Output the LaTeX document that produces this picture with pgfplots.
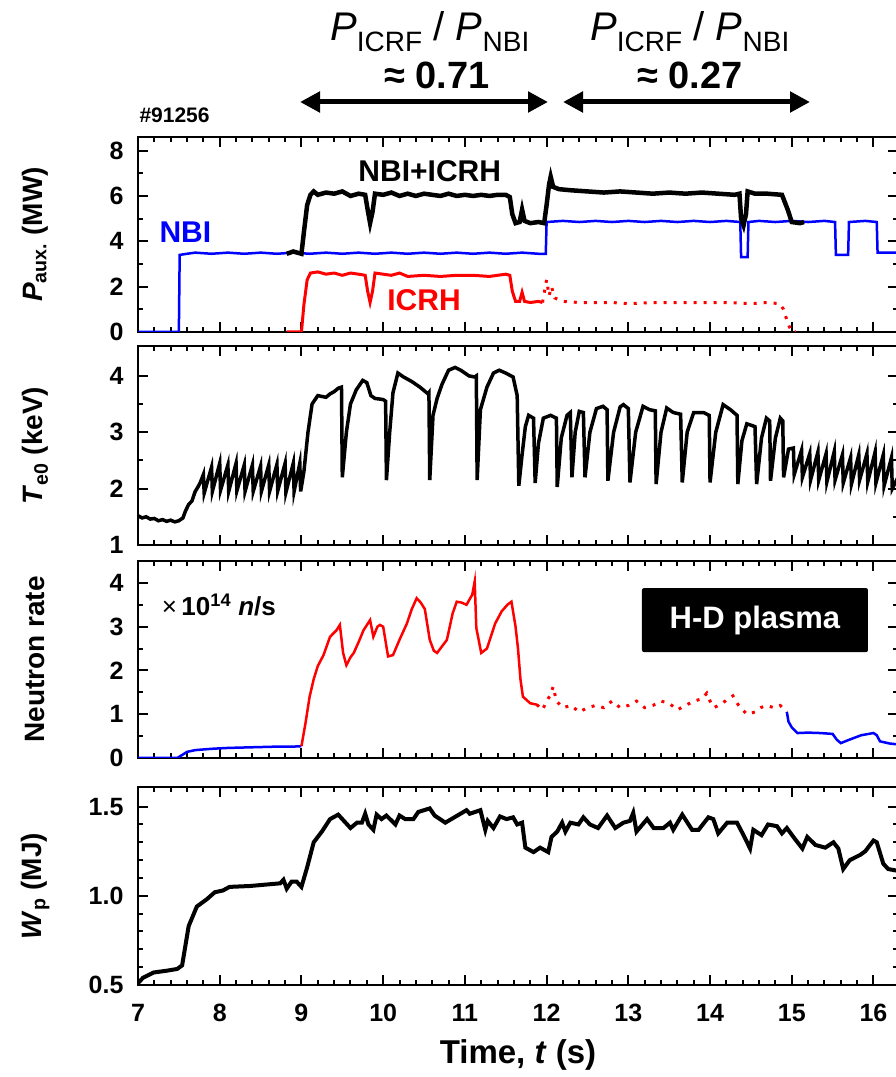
\documentclass[border=0pt]{standalone}
\usepackage{fontspec}
\setmainfont{Liberation Sans}
\usepackage{pgfplots}
\pgfplotsset{compat=1.18}
\usetikzlibrary{arrows.meta}
\definecolor{nbi}{RGB}{0,0,255}
\definecolor{icrh}{RGB}{255,0,0}

\newcommand{\tickfont}{\fontsize{25}{25}\selectfont\bfseries}
\newcommand{\labfont}{\fontsize{28}{30}\selectfont\bfseries}

\pgfplotsset{
  panel/.style={
    scale only axis, width=760pt, xmin=7, xmax=16.3,
    anchor=south west,
    xtick={7,...,16}, minor x tick num=4,
    axis line style={line width=2pt},
    tick style={line width=2pt, black},
    major tick length=10pt, minor tick length=5pt,
    tick align=inside,
    tick label style={font=\tickfont},
    /pgf/number format/assume math mode=true,
    yticklabel style={xshift=-11pt},
    ylabel style={at={(axis description cs:-0.135,0.5)}, anchor=center, font=\labfont},
  },
}

\begin{document}
\begin{tikzpicture}
\useasboundingbox (0pt,0pt) rectangle (896pt,1077pt);

% --- auxiliary heating power
\begin{axis}[panel, at={(138pt,745pt)}, height=195pt,
  ymin=0, ymax=8.6, ytick={0,2,4,6,8}, minor y tick num=1,
  xticklabels={},
  ylabel={\textit{P}\textsubscript{aux.} (MW)}]
\addplot[nbi, line width=2.5pt] coordinates {
  (7,0)(7.5,0)(7.51,3.4)(7.6,3.45)(7.7,3.5)(7.9,3.45)(8.1,3.5)(8.3,3.45)(8.5,3.5)
  (8.7,3.45)(8.9,3.5)(9.1,3.45)(9.3,3.5)(9.5,3.45)(9.7,3.5)(9.9,3.45)(10.1,3.5)
  (10.3,3.45)(10.5,3.5)(10.7,3.45)(10.9,3.5)(11.1,3.45)(11.3,3.5)(11.5,3.45)
  (11.7,3.5)(11.9,3.45)(11.99,3.45)(12.0,4.85)(12.2,4.9)(12.4,4.85)(12.6,4.9)
  (12.8,4.85)(13.0,4.9)(13.2,4.85)(13.4,4.9)(13.6,4.85)(13.8,4.9)(14.0,4.85)
  (14.2,4.9)(14.37,4.85)(14.38,3.3)(14.46,3.3)(14.47,4.85)(14.6,4.9)(14.8,4.85)
  (15.0,4.9)(15.2,4.85)(15.4,4.9)(15.53,4.85)(15.54,3.4)(15.69,3.4)(15.7,4.85)
  (15.9,4.9)(16.04,4.85)(16.05,3.5)(16.3,3.5)
};
\addplot[icrh, line width=3pt] coordinates {
  (8.82,0)(9.0,0)(9.03,1.2)(9.07,2.3)(9.11,2.6)(9.2,2.65)(9.3,2.55)(9.4,2.6)
  (9.5,2.5)(9.6,2.6)(9.7,2.55)(9.78,2.5)(9.81,1.8)(9.84,1.3)(9.87,1.8)(9.9,2.6)
  (10.0,2.55)(10.1,2.5)(10.2,2.6)(10.3,2.45)(10.5,2.5)(10.7,2.45)(10.9,2.5)
  (11.1,2.5)(11.3,2.45)(11.5,2.55)(11.55,2.5)(11.58,1.8)(11.62,1.35)(11.67,1.35)
  (11.7,1.75)(11.73,1.35)(11.8,1.3)(11.9,1.35)(11.95,1.3)
};
\addplot[icrh, line width=3pt, dash pattern=on 3pt off 7pt] coordinates {
  (11.95,1.3)(12.0,2.3)(12.03,1.6)(12.06,2.0)(12.1,1.5)(12.2,1.35)(12.4,1.3)
  (12.6,1.3)(12.8,1.3)(13.0,1.25)(13.3,1.3)(13.6,1.3)(13.9,1.3)(14.2,1.3)
  (14.5,1.25)(14.7,1.3)(14.85,1.25)(14.9,1.0)(14.95,0.4)(15.0,0)(15.05,0)
};
\addplot[black, line width=4.5pt] coordinates {
  (8.82,3.45)(8.9,3.55)(9.0,3.45)(9.03,4.4)(9.07,5.6)(9.11,6.05)(9.15,6.2)
  (9.2,6.05)(9.3,6.15)(9.4,6.1)(9.5,6.2)(9.6,6.0)(9.7,6.1)(9.78,6.05)(9.81,5.4)
  (9.84,4.8)(9.87,5.3)(9.9,6.1)(10.0,6.05)(10.1,6.15)(10.2,6.0)(10.3,6.1)
  (10.4,6.0)(10.5,6.1)(10.6,6.05)(10.7,6.0)(10.8,6.1)(10.9,6.0)(11.0,6.05)
  (11.1,6.0)(11.2,6.05)(11.3,6.0)(11.4,6.05)(11.5,6.05)(11.55,5.95)(11.58,5.2)
  (11.62,4.8)(11.67,4.85)(11.7,5.4)(11.73,4.9)(11.8,4.8)(11.9,4.85)(11.97,4.8)
  (12.0,5.6)(12.03,6.5)(12.05,6.85)(12.08,6.4)(12.15,6.3)(12.3,6.25)(12.5,6.2)
  (12.7,6.15)(12.9,6.2)(13.1,6.15)(13.3,6.1)(13.5,6.15)(13.7,6.1)(13.9,6.15)
  (14.1,6.1)(14.3,6.05)(14.36,6.1)(14.38,5.0)(14.41,4.7)(14.44,5.2)(14.46,6.2)
  (14.55,6.1)(14.7,6.1)(14.88,6.05)(14.95,5.4)(15.0,4.85)(15.1,4.8)(15.15,4.85)
};
\node[font=\fontsize{30}{30}\selectfont\bfseries] at (axis cs:10.57,7.1) {NBI+ICRH};
\node[font=\fontsize{30}{30}\selectfont\bfseries, text=nbi] at (axis cs:7.58,4.4) {NBI};
\node[font=\fontsize{30}{30}\selectfont\bfseries, text=icrh] at (axis cs:10.5,1.4) {ICRH};
\end{axis}

% --- central electron temperature
\begin{axis}[panel, at={(138pt,532pt)}, height=199pt,
  ymin=1, ymax=4.53, ytick={1,2,3,4}, minor y tick num=1,
  xticklabels={},
  ylabel={\textit{T}\textsubscript{e0} (keV)}]
\addplot[black, line width=3.5pt] coordinates {
  (7.0,1.52)(7.05,1.48)(7.1,1.5)(7.15,1.46)(7.2,1.47)(7.25,1.43)(7.3,1.45)
  (7.35,1.42)(7.4,1.44)(7.45,1.41)(7.5,1.43)(7.55,1.48)(7.58,1.6)(7.62,1.72)
  (7.66,1.78)(7.7,1.95)(7.73,2.02)(7.76,2.1)(7.8,2.25)(7.81,1.92)
  (7.90,2.38)(7.91,1.95)(8.00,2.45)(8.01,1.97)(8.10,2.42)(8.11,1.95)(8.20,2.45)
  (8.21,1.96)(8.30,2.42)(8.31,1.95)(8.40,2.42)(8.41,1.95)(8.50,2.4)(8.51,1.95)
  (8.60,2.42)(8.61,1.95)(8.70,2.43)(8.71,1.96)(8.80,2.45)(8.81,1.93)(8.90,2.45)
  (8.91,1.95)(8.98,2.45)(8.99,1.95)(9.03,2.3)(9.08,3.0)(9.13,3.5)(9.2,3.65)
  (9.3,3.62)(9.35,3.68)(9.4,3.72)(9.45,3.78)(9.49,3.8)(9.5,2.2)(9.55,3.0)
  (9.6,3.5)(9.67,3.75)(9.75,3.92)(9.8,3.88)(9.85,3.65)(9.9,3.6)(10.0,3.58)
  (10.03,3.55)(10.04,2.15)(10.08,3.0)(10.12,3.7)(10.18,4.05)(10.25,3.98)
  (10.35,3.9)(10.45,3.8)(10.55,3.68)(10.56,3.7)(10.57,2.15)(10.61,3.3)
  (10.66,3.6)(10.72,3.85)(10.8,4.1)(10.88,4.15)(10.95,4.1)(11.05,4.0)
  (11.12,3.98)(11.14,4.0)(11.15,2.15)(11.19,3.4)(11.27,3.8)(11.35,4.05)
  (11.42,4.1)(11.5,4.05)(11.59,3.98)(11.64,3.65)(11.66,2.05)(11.7,2.6)
  (11.74,3.1)(11.78,3.3)(11.84,3.25)(11.86,2.1)(11.9,2.8)(11.96,3.25)
  (12.05,3.3)(12.12,3.25)(12.13,2.03)(12.18,2.9)(12.25,3.3)(12.29,3.35)
  (12.31,2.2)(12.35,3.0)(12.40,3.37)(12.45,3.35)(12.47,2.2)(12.53,3.0)
  (12.61,3.42)(12.69,3.46)(12.74,3.4)(12.75,2.14)(12.82,3.0)(12.9,3.45)
  (12.94,3.49)(13.0,3.42)(13.02,2.11)(13.09,3.0)(13.18,3.46)(13.26,3.4)
  (13.33,3.38)(13.34,2.08)(13.4,3.0)(13.47,3.43)(13.55,3.35)(13.64,3.32)
  (13.66,2.11)(13.72,3.0)(13.8,3.35)(13.92,3.35)(13.99,3.3)(14.0,2.11)
  (14.07,3.0)(14.16,3.49)(14.25,3.4)(14.33,3.3)(14.34,2.08)(14.39,2.85)
  (14.45,3.15)(14.55,3.1)(14.57,2.08)(14.63,2.9)(14.69,3.25)(14.73,3.2)
  (14.74,2.14)(14.8,2.9)(14.86,3.25)(14.89,3.2)(14.9,2.2)(14.96,2.7)
  (15.02,2.72)(15.03,2.25)(15.12,2.68)(15.13,2.2)(15.22,2.62)(15.23,2.15)
  (15.32,2.65)(15.33,2.15)(15.42,2.62)(15.43,2.12)(15.52,2.66)(15.53,2.15)
  (15.62,2.6)(15.63,2.1)(15.72,2.55)(15.73,2.08)(15.82,2.6)(15.83,2.15)
  (15.92,2.62)(15.93,2.12)(16.02,2.65)(16.03,2.1)(16.12,2.6)(16.13,2.05)
  (16.22,2.55)(16.23,2.0)(16.3,2.2)
};
\end{axis}

% --- neutron emission rate
\begin{axis}[panel, at={(138pt,319pt)}, height=197pt,
  ymin=0, ymax=4.5, ytick={0,1,2,3,4}, minor y tick num=1,
  xticklabels={},
  ylabel={Neutron rate}]
\addplot[nbi, line width=2.5pt] coordinates {
  (7,0)(7.48,0)(7.55,0.08)(7.6,0.14)(7.7,0.18)(7.9,0.21)(8.1,0.23)(8.3,0.24)
  (8.5,0.25)(8.7,0.26)(8.9,0.26)(9.0,0.27)
};
\addplot[icrh, line width=2.5pt] coordinates {
  (9.0,0.27)(9.05,0.8)(9.1,1.4)(9.15,1.8)(9.2,2.1)(9.27,2.35)(9.35,2.77)
  (9.43,2.92)(9.47,3.04)(9.51,2.4)(9.55,2.12)(9.6,2.3)(9.64,2.4)(9.7,2.65)
  (9.76,2.92)(9.84,3.15)(9.88,2.77)(9.93,3.0)(9.96,3.04)(10.0,3.0)(10.06,2.32)
  (10.12,2.35)(10.2,2.7)(10.29,3.07)(10.35,3.4)(10.41,3.65)(10.46,3.55)
  (10.51,3.4)(10.57,2.7)(10.62,2.45)(10.66,2.4)(10.72,2.55)(10.78,2.7)
  (10.85,3.3)(10.9,3.57)(10.96,3.55)(11.02,3.5)(11.09,3.73)(11.12,4.03)
  (11.14,2.97)(11.2,2.4)(11.27,2.5)(11.37,3.07)(11.45,3.35)(11.52,3.5)
  (11.57,3.57)(11.62,3.0)(11.65,2.5)(11.68,1.8)(11.71,1.4)(11.8,1.25)(11.88,1.22)
};
\addplot[icrh, line width=3pt, dash pattern=on 3pt off 7pt] coordinates {
  (11.88,1.22)(11.95,1.1)(12.0,1.3)(12.05,1.45)(12.08,1.63)(12.12,1.3)(12.2,1.15)
  (12.3,1.2)(12.4,1.05)(12.5,1.15)(12.6,1.2)(12.7,1.15)(12.8,1.3)(12.9,1.15)
  (13.0,1.2)(13.1,1.3)(13.2,1.15)(13.3,1.2)(13.4,1.3)(13.5,1.25)(13.6,1.1)
  (13.7,1.2)(13.8,1.3)(13.9,1.35)(13.96,1.48)(14.0,1.3)(14.05,1.15)(14.15,1.25)
  (14.22,1.35)(14.28,1.42)(14.35,1.2)(14.45,1.0)(14.55,1.05)(14.62,1.15)
  (14.69,1.2)(14.78,1.15)(14.86,1.2)(14.94,1.05)
};
\addplot[nbi, line width=2.5pt] coordinates {
  (14.94,1.05)(14.96,0.83)(15.0,0.7)(15.07,0.57)(15.2,0.58)(15.35,0.57)
  (15.5,0.55)(15.55,0.42)(15.6,0.34)(15.68,0.4)(15.75,0.45)(15.85,0.52)
  (16.0,0.57)(16.04,0.52)(16.08,0.38)(16.2,0.33)(16.3,0.31)
};
\node[anchor=west, font=\fontsize{26}{26}\selectfont\bfseries] at (axis cs:7.25,3.5)
  {\textmd{\texttimes}\,10\textsuperscript{14} \textit{n}/s};
\node[fill=black, text=white, rounded corners=2pt, minimum width=226pt,
  minimum height=64pt, font=\fontsize{31}{31}\selectfont\bfseries]
  at (axis cs:14.55,3.15) {H-D plasma};
\end{axis}

% --- stored energy
\begin{axis}[panel, at={(138pt,92pt)}, height=198pt,
  ymin=0.5, ymax=1.61, ytick={0.5,1.0,1.5}, minor y tick num=4,
  yticklabel style={/pgf/number format/.cd, fixed, fixed zerofill, precision=1},
  xlabel={Time, \textit{t} (s)},
  xticklabel style={yshift=-16pt},
  xlabel style={font=\fontsize{33}{33}\selectfont\bfseries,
    at={(axis description cs:0.5,0)}, anchor=center, yshift=-70pt},
  ylabel={\textit{W}\textsubscript{p} (MJ)}]
\addplot[black, line width=4pt] coordinates {
  (7.0,0.51)(7.06,0.54)(7.19,0.57)(7.35,0.58)(7.48,0.59)(7.54,0.61)(7.62,0.83)
  (7.72,0.94)(7.84,0.98)(7.94,1.02)(8.04,1.03)(8.12,1.05)(8.37,1.055)(8.74,1.07)
  (8.78,1.09)(8.82,1.04)(8.88,1.08)(8.94,1.08)(9.0,1.05)(9.07,1.16)(9.15,1.3)
  (9.25,1.36)(9.35,1.43)(9.45,1.455)(9.6,1.38)(9.68,1.41)(9.74,1.41)(9.78,1.46)
  (9.82,1.4)(9.88,1.37)(9.92,1.455)(9.98,1.43)(10.04,1.45)(10.15,1.4)(10.2,1.45)
  (10.27,1.43)(10.37,1.43)(10.43,1.47)(10.57,1.49)(10.63,1.45)(10.76,1.41)
  (11.02,1.48)(11.06,1.46)(11.19,1.48)(11.25,1.37)(11.28,1.42)(11.35,1.38)
  (11.43,1.445)(11.51,1.43)(11.59,1.44)(11.64,1.4)(11.7,1.41)(11.74,1.27)
  (11.84,1.245)(11.92,1.27)(12.02,1.245)(12.06,1.33)(12.13,1.36)(12.19,1.41)
  (12.23,1.36)(12.29,1.41)(12.39,1.4)(12.45,1.44)(12.53,1.4)(12.63,1.38)
  (12.74,1.45)(12.84,1.38)(12.94,1.41)(13.02,1.42)(13.06,1.465)(13.1,1.36)
  (13.23,1.43)(13.31,1.38)(13.43,1.38)(13.51,1.41)(13.55,1.37)(13.66,1.455)
  (13.78,1.37)(13.86,1.37)(13.98,1.44)(14.04,1.43)(14.1,1.35)(14.21,1.41)
  (14.33,1.41)(14.41,1.34)(14.49,1.265)(14.53,1.37)(14.63,1.34)(14.71,1.4)
  (14.82,1.39)(14.88,1.35)(14.94,1.38)(15.02,1.33)(15.13,1.265)(15.19,1.33)
  (15.29,1.285)(15.41,1.27)(15.51,1.3)(15.57,1.265)(15.63,1.15)(15.71,1.2)
  (15.84,1.23)(15.9,1.25)(16.0,1.31)(16.04,1.3)(16.12,1.18)(16.18,1.15)(16.3,1.14)
};
\end{axis}

% --- annotations above the panels
\node[font=\bfseries\fontsize{21}{21}\selectfont, anchor=south west] at (136pt,951pt) {\#91256};
\node[font=\fontsize{40}{40}\selectfont] at (430pt,1045pt)
  {\textit{P}\textsubscript{ICRF} / \textit{P}\textsubscript{NBI}};
\node[font=\fontsize{38}{38}\selectfont\bfseries] at (437pt,1002pt) {≈ 0.71};
\node[font=\fontsize{40}{40}\selectfont] at (690pt,1045pt)
  {\textit{P}\textsubscript{ICRF} / \textit{P}\textsubscript{NBI}};
\node[font=\fontsize{38}{38}\selectfont\bfseries] at (690pt,1002pt) {≈ 0.27};
\draw[line width=5pt, {Triangle[length=20pt,width=20pt]}-{Triangle[length=20pt,width=20pt]}]
  (300pt,975pt) -- (548pt,975pt);
\draw[line width=5pt, {Triangle[length=20pt,width=20pt]}-{Triangle[length=20pt,width=20pt]}]
  (563pt,975pt) -- (810pt,975pt);
\end{tikzpicture}
\end{document}
